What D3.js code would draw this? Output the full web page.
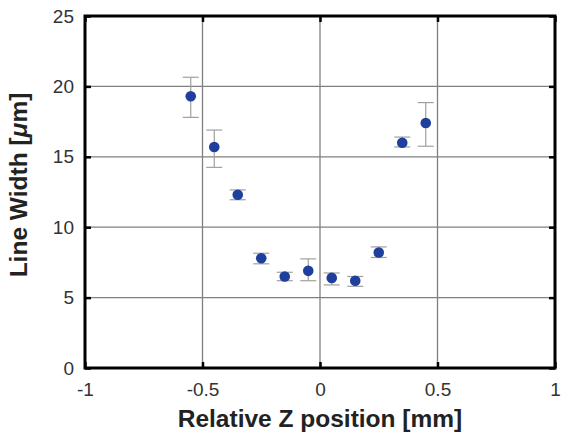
<!DOCTYPE html>
<html>
<head>
<meta charset="utf-8">
<script src="https://cdn.jsdelivr.net/npm/d3@7"></script>
<style>
  body { margin: 0; background: #fff; }
  svg text { font-family: "Liberation Sans", Arial, Helvetica, sans-serif; }
</style>
</head>
<body>
<div class="chart"></div>
<script>
// Data: relative Z position [mm] vs line width [um]
const zPos = [-0.55, -0.45, -0.35, -0.25, -0.15, -0.05, 0.05, 0.15, 0.25, 0.35, 0.45];
const lineWidth = [19.3, 15.7, 12.3, 7.8, 6.5, 6.9, 6.4, 6.2, 8.2, 16.0, 17.4];
const errLow = [17.8, 14.25, 11.95, 7.4, 6.2, 6.2, 5.9, 5.8, 7.85, 15.7, 15.75];
const errHigh = [20.65, 16.9, 12.65, 8.15, 6.8, 7.75, 6.75, 6.5, 8.6, 16.4, 18.85];

const xTicks = [-1, -0.5, 0, 0.5, 1];
const yTicks = [0, 5, 10, 15, 20, 25];

const data = zPos.map((z, i) => ({ z: z, w: lineWidth[i], lo: errLow[i], hi: errHigh[i] }));

const makeChart = (cls) => {
    const margin = { top: 16, right: 6, bottom: 69, left: 85 };
    const svgWidth = 561;
    const svgHeight = 437;
    const width = svgWidth - margin.left - margin.right;
    const height = svgHeight - margin.top - margin.bottom;

    const svg = d3.select(`.${cls}`).append("svg")
        .attr("width", svgWidth)
        .attr("height", svgHeight)
        .append("g")
        .attr("transform", `translate(${margin.left},${margin.top})`);

    const x = d3.scaleLinear().domain([-1, 1]).range([0, width]);
    const y = d3.scaleLinear().domain([0, 25]).range([height, 0]);

    // grid lines
    svg.append("g")
        .selectAll("line")
        .data(xTicks.slice(1, -1))
        .enter().append("line")
        .attr("x1", d => x(d)).attr("x2", d => x(d))
        .attr("y1", 0).attr("y2", height)
        .attr("stroke", "#808080").attr("stroke-width", 1.3);

    svg.append("g")
        .selectAll("line")
        .data(yTicks.slice(1, -1))
        .enter().append("line")
        .attr("y1", d => y(d)).attr("y2", d => y(d))
        .attr("x1", 0).attr("x2", width)
        .attr("stroke", "#808080").attr("stroke-width", 1.3);

    // axes with inward ticks
    svg.append("g")
        .attr("class", "x-axis")
        .attr("transform", `translate(0,${height})`)
        .call(d3.axisBottom(x).tickValues(xTicks).tickSizeInner(-6).tickSizeOuter(0).tickPadding(15)
            .tickFormat(d => String(d)));
    svg.append("g")
        .attr("class", "x-axis-top")
        .call(d3.axisTop(x).tickValues(xTicks).tickSizeInner(-6).tickSizeOuter(0).tickFormat(""));

    svg.append("g")
        .attr("class", "y-axis")
        .call(d3.axisLeft(y).tickValues(yTicks).tickSizeInner(-6).tickSizeOuter(0).tickPadding(11)
            .tickFormat(d => String(d)));
    svg.append("g")
        .attr("class", "y-axis-right")
        .attr("transform", `translate(${width},0)`)
        .call(d3.axisRight(y).tickValues(yTicks).tickSizeInner(-6).tickSizeOuter(0).tickFormat(""));

    svg.selectAll(".x-axis .domain, .x-axis-top .domain, .y-axis .domain, .y-axis-right .domain").remove();
    svg.selectAll(".tick line").attr("stroke", "#000").attr("stroke-width", 2.5);

    svg.selectAll(".x-axis text, .y-axis text")
        .style("font-size", "19px")
        .attr("fill", "#333");

    // frame
    svg.append("rect")
        .attr("x", 0).attr("y", 0)
        .attr("width", width).attr("height", height)
        .attr("fill", "none")
        .attr("stroke", "#000")
        .attr("stroke-width", 3);

    // error bars
    const eb = svg.append("g").attr("class", "errbars");
    const cap = 8;
    const ebColor = "#a0a0a0";
    eb.selectAll(".stem")
        .data(data).enter().append("line")
        .attr("x1", d => x(d.z)).attr("x2", d => x(d.z))
        .attr("y1", d => y(d.lo)).attr("y2", d => y(d.hi))
        .attr("stroke", ebColor).attr("stroke-width", 1.2);
    eb.selectAll(".capHi")
        .data(data).enter().append("line")
        .attr("x1", d => x(d.z) - cap).attr("x2", d => x(d.z) + cap)
        .attr("y1", d => y(d.hi)).attr("y2", d => y(d.hi))
        .attr("stroke", ebColor).attr("stroke-width", 1.2);
    eb.selectAll(".capLo")
        .data(data).enter().append("line")
        .attr("x1", d => x(d.z) - cap).attr("x2", d => x(d.z) + cap)
        .attr("y1", d => y(d.lo)).attr("y2", d => y(d.lo))
        .attr("stroke", ebColor).attr("stroke-width", 1.2);

    // points
    svg.selectAll(".pt")
        .data(data).enter().append("circle")
        .attr("cx", d => x(d.z))
        .attr("cy", d => y(d.w))
        .attr("r", 5.3)
        .attr("fill", "#1f3f9c");

    // axis titles
    svg.append("text")
        .attr("x", width / 2)
        .attr("y", height + 59)
        .attr("text-anchor", "middle")
        .style("font-size", "24.5px")
        .style("font-weight", "bold")
        .attr("fill", "#222")
        .text("Relative Z position [mm]");

    const yt = svg.append("text")
        .attr("transform", `translate(${-58},${height / 2 - 7}) rotate(-90)`)
        .attr("text-anchor", "middle")
        .style("font-size", "24.5px")
        .style("font-weight", "bold")
        .attr("fill", "#222");
    yt.append("tspan").text("Line Width [");
    yt.append("tspan").style("font-style", "italic").text("μ");
    yt.append("tspan").text("m]");
};

window.addEventListener("DOMContentLoaded", () => {
    makeChart("chart");
});
</script>
</body>
</html>
